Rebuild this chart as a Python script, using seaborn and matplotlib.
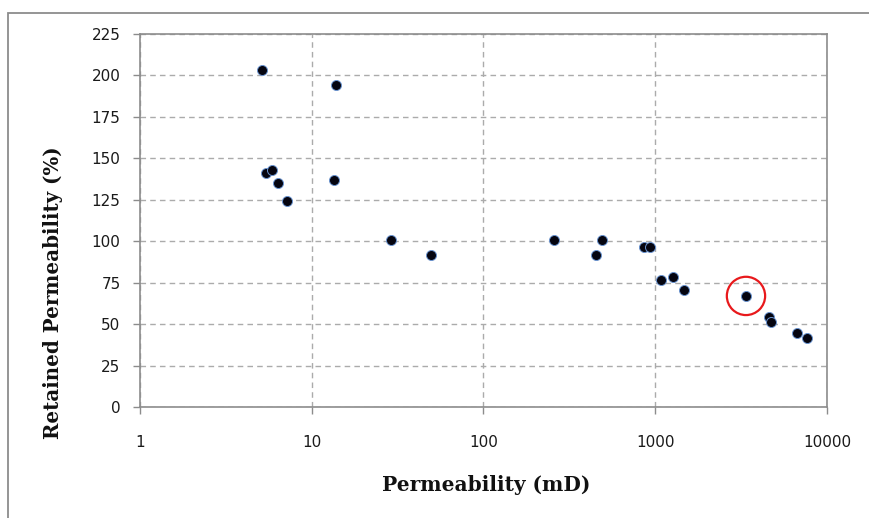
import numpy as np
import pandas as pd
import matplotlib
matplotlib.use("Agg")
import matplotlib.pyplot as plt
from matplotlib.patches import Rectangle
import seaborn as sns

# Data
permeability = [5.1, 13.8, 5.4, 5.9, 6.4, 7.2, 13.5, 28.8, 49.3, 257, 488, 452,
                860, 932, 1084, 1274, 1476, 3375, 4580, 4700, 6670, 7620]
retained = [203, 194, 141, 143, 135, 124, 137, 101, 91.5, 101, 100.5, 91.5,
            96.5, 96.5, 76.5, 78.5, 70.5, 67, 54.5, 51.5, 44.5, 41.5]
highlight_x = [3375]
highlight_y = [67]
x_ticks = [1, 10, 100, 1000, 10000]
x_tick_labels = ["1", "10", "100", "1000", "10000"]
y_ticks = [0, 25, 50, 75, 100, 125, 150, 175, 200, 225]

df = pd.DataFrame({"Permeability (mD)": permeability,
                   "Retained Permeability (%)": retained})

sns.set_style("white")
plt.rcParams['font.family'] = ['DejaVu Sans']

fig = plt.figure(figsize=(8.7, 5.18), dpi=100)
ax = fig.add_axes([140/870, 1-407/518, (827-140)/870, (407-34)/518])

# outer chart frame
fig.patches.append(Rectangle((8/870, -0.1), 1.2, 1-13/518+0.1,
                             transform=fig.transFigure, fill=False,
                             edgecolor='#8c8c8c', linewidth=1.3, zorder=0))

sns.scatterplot(data=df, x="Permeability (mD)", y="Retained Permeability (%)",
                ax=ax, color='#050510', edgecolor='#6a93cf', linewidth=0.7,
                s=52, zorder=3, legend=False)
ax.scatter(highlight_x, highlight_y, s=760, facecolors='none',
           edgecolors='#e8191c', linewidths=1.6, zorder=4)

ax.set_xscale('log')
ax.set_xlim(1, 10000)
ax.set_ylim(0, 225)
ax.set_xticks(x_ticks)
ax.set_xticklabels(x_tick_labels)
ax.xaxis.set_minor_locator(matplotlib.ticker.NullLocator())
ax.set_yticks(y_ticks)

ax.grid(True, which='major', linestyle=(0, (4, 3)), color='#ababab', linewidth=1.0)
ax.set_axisbelow(True)
for s in ax.spines.values():
    s.set_color('#8c8c8c')
    s.set_linewidth(1.2)

ax.tick_params(axis='both', direction='out', length=5, width=1.0, color='#8c8c8c',
               labelsize=11, labelcolor='#1a1a1a')
ax.tick_params(axis='x', pad=15, bottom=True)
ax.tick_params(axis='y', pad=9, left=True)

xl = ax.set_xlabel("Permeability (mD)", family='DejaVu Serif', fontweight='bold',
                   fontsize=14.5, color='#111111')
yl = ax.set_ylabel("Retained Permeability (%)", family='DejaVu Serif', fontweight='bold',
                   fontsize=14.3, color='#111111')
xl.set_verticalalignment('center')
yl.set_verticalalignment('center')
ax.xaxis.set_label_coords((486-140)/687, (407-485)/373)
ax.yaxis.set_label_coords((53-140)/687, (407-293)/373)

fig.savefig("out.png", dpi=100)
